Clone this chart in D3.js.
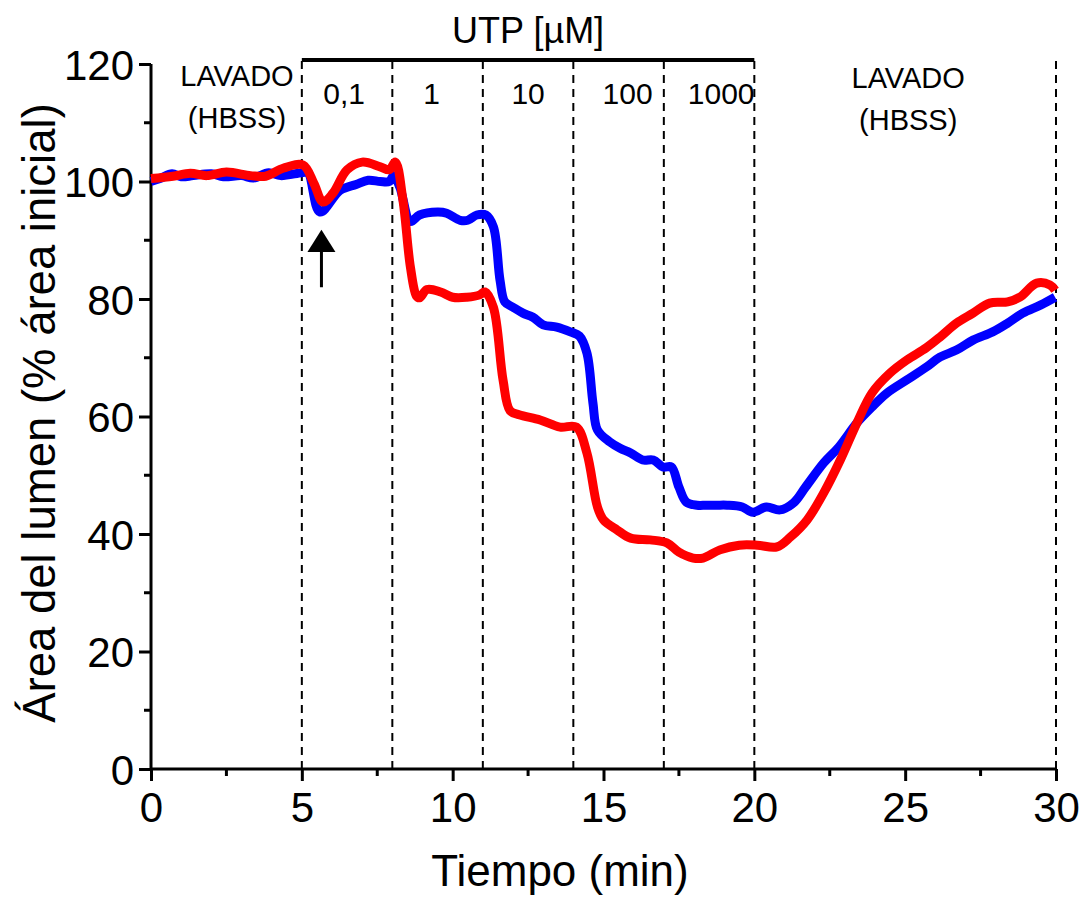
<!DOCTYPE html>
<html>
<head>
<meta charset="utf-8">
<script src="https://cdn.jsdelivr.net/npm/d3@7"></script>
<style>
  body { margin: 0; background: #fff; }
  svg text { font-family: "Liberation Sans", Arial, sans-serif; fill: #000; }
</style>
</head>
<body>
<div id="chart"></div>
<script>
// time (min) and lumen area (% of initial area)
var blueT = [0, 0.3, 0.7, 1.0, 1.4, 2.0, 2.4, 3.0, 3.4, 3.9, 4.3, 5.0, 5.2, 5.6, 6.27, 6.8, 7.2, 7.6, 7.9, 8.05,
  8.25, 8.6, 8.9, 9.5, 9.8, 10.25, 10.5, 10.8, 11.1, 11.35, 11.57, 11.73, 12.0, 12.33, 12.66, 13.0, 13.45, 13.9,
  14.2, 14.45, 14.65, 14.8, 15.2, 15.55, 15.9, 16.3, 16.65, 16.97, 17.25, 17.5, 17.75, 18.1, 18.4, 18.75, 19.1,
  19.6, 19.95, 20.4, 20.85, 21.3, 21.7, 22.3, 22.8, 23.4, 23.9, 24.4, 25.05, 25.7, 26.15, 26.7, 27.25, 27.9,
  28.4, 28.9, 29.5, 29.97];
var blueV = [100, 100.5, 101.3, 100.8, 101.0, 101.3, 100.8, 101.0, 100.6, 101.5, 101.0, 101.5, 101.5, 94.8, 98.5, 99.5, 100.2, 100, 100, 101,
  99, 93.2, 94.3, 94.8, 94.6, 93.4, 93.4, 94.3, 94.3, 92.3, 83.2, 79.5, 78.6, 77.6, 76.9, 75.6, 75.2, 74.4,
  73.7, 70.8, 62.3, 57.7, 55.7, 54.6, 53.8, 52.6, 52.6, 51.4, 51.4, 48, 45.4, 44.9, 44.9, 44.9, 44.9,
  44.6, 43.7, 44.6, 44.1, 45.3, 48, 52.1, 54.8, 58.9, 61.6, 64, 66.2, 68.4, 70.1, 71.3, 73, 74.4,
  75.9, 77.6, 79, 80.3];

var redT = [0, 0.73, 1.3, 1.85, 2.5, 3.3, 3.8, 4.4, 5.04, 5.4, 5.7, 6.03, 6.5, 7.0, 7.6, 7.9, 8.1, 8.35, 8.6, 8.8,
  8.9, 9.15, 9.6, 10.0, 10.47, 10.9, 11.07, 11.35, 11.67, 11.9, 12.2, 12.9, 13.56, 14.1, 14.45, 14.8, 15.0,
  15.45, 15.9, 16.55, 17.1, 17.5, 17.97, 18.3, 18.86, 19.5, 20.1, 20.75, 21.2, 21.75, 22.3, 22.85, 23.4, 23.9,
  24.5, 25.05, 25.7, 26.15, 26.7, 27.25, 27.8, 28.4, 28.8, 29.36, 29.8, 29.97];
var redV = [100.5, 100.9, 101.4, 101, 101.6, 101, 100.9, 102.3, 102.8, 99.7, 96.5, 98.0, 102, 103.3, 102.5, 102, 103.3, 96.9, 85.4, 80.5,
  80.2, 81.6, 81.2, 80.3, 80.3, 80.7, 81.2, 78.6, 66.2, 61, 60.3, 59.4, 58.2, 58.2, 53.8, 44.6, 42.4,
  40.7, 39.3, 39, 38.5, 36.9, 35.9, 35.9, 37.3, 38.1, 38.1, 37.8, 39.5, 42.4, 47, 52.6, 58.9, 64,
  67.4, 69.6, 71.7, 73.5, 75.9, 77.6, 79.3, 79.5, 80.3, 82.7, 82.4, 81.5];

var xTicks = [0, 5, 10, 15, 20, 25, 30];
var yTicks = [0, 20, 40, 60, 80, 100, 120];
var stepTimes = [5, 8, 11, 14, 17, 20, 30];
var doseLabels = ["0,1", "1", "10", "100", "1000"];
var dosePos = [6.4, 9.3, 12.5, 15.8, 18.9];

var width = 1084, height = 909;
var margin = {left: 151, right: 28, top: 64, bottom: 140};

var svg = d3.select("#chart").append("svg")
  .attr("width", width).attr("height", height);

var x = d3.scaleLinear().domain([0, 30]).range([margin.left, width - margin.right]);
var y = d3.scaleLinear().domain([0, 120]).range([height - margin.bottom, margin.top]);

// dashed markers
svg.append("g").selectAll("line")
  .data(stepTimes).enter().append("line")
  .attr("x1", d => x(d)).attr("x2", d => x(d))
  .attr("y1", y(0)).attr("y2", 60)
  .attr("stroke", "#000").attr("stroke-width", 2)
  .attr("stroke-dasharray", "8,6");

// UTP bar
svg.append("line")
  .attr("x1", x(5)).attr("x2", x(20))
  .attr("y1", 60).attr("y2", 60)
  .attr("stroke", "#000").attr("stroke-width", 4);
svg.append("text")
  .attr("x", x(12.5)).attr("y", 43)
  .attr("text-anchor", "middle").attr("font-size", 36)
  .text("UTP [µM]");

svg.append("g").selectAll("text")
  .data(doseLabels).enter().append("text")
  .attr("x", (d, i) => x(dosePos[i]))
  .attr("y", 104)
  .attr("text-anchor", "middle").attr("font-size", 30)
  .text(d => d);

var washes = [[2.85, 86, 128], [25.1, 88, 130]];
washes.forEach(function (w) {
  svg.append("text").attr("x", x(w[0])).attr("y", w[1])
    .attr("text-anchor", "middle").attr("font-size", 29).text("LAVADO");
  svg.append("text").attr("x", x(w[0])).attr("y", w[2])
    .attr("text-anchor", "middle").attr("font-size", 29).text("(HBSS)");
});

// axes
var xAxis = d3.axisBottom(x).tickValues(xTicks).tickSize(12).tickPadding(8).tickFormat(d3.format("d"));
var gx = svg.append("g").attr("transform", "translate(0," + y(0) + ")").call(xAxis);
gx.append("g").selectAll("line")
  .data([2.5, 7.5, 12.5, 17.5, 22.5, 27.5]).enter().append("line")
  .attr("x1", d => x(d)).attr("x2", d => x(d)).attr("y1", 0).attr("y2", 7);

var yAxis = d3.axisLeft(y).tickValues(yTicks).tickSize(12).tickPadding(5);
var gy = svg.append("g").attr("transform", "translate(" + x(0) + ",0)").call(yAxis);
gy.append("g").selectAll("line")
  .data([10, 30, 50, 70, 90, 110]).enter().append("line")
  .attr("x1", 0).attr("x2", -7).attr("y1", d => y(d)).attr("y2", d => y(d));

[gx, gy].forEach(function (g) {
  g.select(".domain").attr("stroke", "#000").attr("stroke-width", 3)
    .attr("d", g === gx ? "M" + x(0) + ",0H" + x(30) : "M0," + y(0) + "V" + y(120));
  g.selectAll("line").attr("stroke", "#000").attr("stroke-width", 3);
  g.selectAll("text").attr("font-size", 42).attr("font-family", "Liberation Sans, Arial, sans-serif");
});
gx.selectAll(".tick text").attr("dy", "0.78em");
gy.selectAll(".tick text").attr("dy", "0.36em");

svg.append("text")
  .attr("x", 560).attr("y", 886)
  .attr("text-anchor", "middle").attr("font-size", 44)
  .text("Tiempo (min)");
svg.append("text")
  .attr("transform", "translate(55,413) rotate(-90)")
  .attr("text-anchor", "middle").attr("font-size", 45.5)
  .text("Área del lumen (% área inicial)");

// curves
var line = d3.line()
  .x(d => x(d[0])).y(d => y(d[1]))
  .curve(d3.curveCatmullRom.alpha(0.5));

svg.append("path")
  .datum(blueT.map((t, i) => [t, blueV[i]]))
  .attr("d", line).attr("fill", "none")
  .attr("stroke", "#0000ff").attr("stroke-width", 9).attr("stroke-linejoin", "round");
svg.append("path")
  .datum(redT.map((t, i) => [t, redV[i]]))
  .attr("d", line).attr("fill", "none")
  .attr("stroke", "#ff0000").attr("stroke-width", 9).attr("stroke-linejoin", "round");

// arrow marking the transient dip
var ax = x(5.65);
svg.append("line")
  .attr("x1", ax).attr("x2", ax).attr("y1", y(82)).attr("y2", y(88))
  .attr("stroke", "#000").attr("stroke-width", 3);
svg.append("path")
  .attr("d", "M" + (ax - 14) + "," + y(88) + "L" + ax + "," + y(91.8) + "L" + (ax + 14) + "," + y(88) + "Z")
  .attr("fill", "#000");
</script>
</body>
</html>
